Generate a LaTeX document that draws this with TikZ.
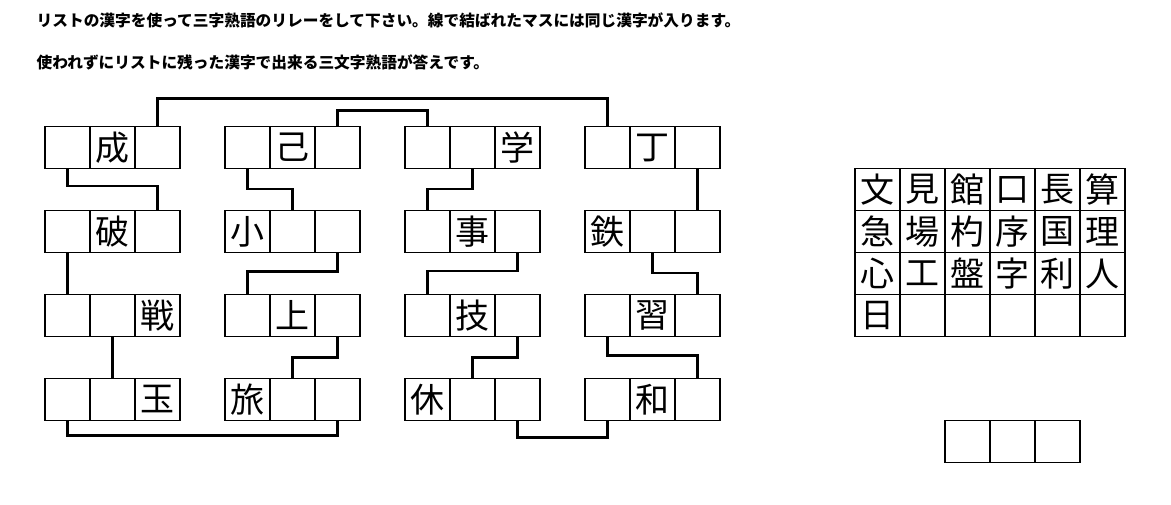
\documentclass[tikz,border=0pt]{standalone}
\usepackage{fontspec}
\setmainfont{Noto Sans CJK JP}
\begin{document}
\begin{tikzpicture}[x=1pt, y=-1pt,
	cell/.style={draw, line width=1.4pt, minimum width=45pt, minimum height=42pt, inner sep=0pt, font=\fontsize{34}{34}\selectfont},
	link/.style={line width=2.6pt, line join=miter},
	lead/.style={anchor=base west, inner sep=0pt, font=\bfseries\fontsize{15.7}{16}\selectfont}]
	\useasboundingbox (0,0) rectangle (1171,505);

	% 1. 問題文
	\node[lead] (t1) at (36.5,27) {リストの漢字を使って三字熟語のリレーをして下さい。線で結ばれたマスには同じ漢字が入ります。};
	\node[lead] (t2) at (36.5,69) {使われずにリストに残った漢字で出来る三文字熟語が答えです。};

	% 2. 熟語のマス (行・列ごとに三つ)
	\foreach \x/\y/\n/\a/\b/\c in {
		45/147.5/g11/{}/成/{}, 225/147.5/g12/{}/己/{}, 405/147.5/g13/{}/{}/学, 585/147.5/g14/{}/丁/{},
		45/231.5/g21/{}/破/{}, 225/231.5/g22/小/{}/{}, 405/231.5/g23/{}/事/{}, 585/231.5/g24/鉄/{}/{},
		45/315.5/g31/{}/{}/戦, 225/315.5/g32/{}/上/{}, 405/315.5/g33/{}/技/{}, 585/315.5/g34/{}/習/{},
		45/399.5/g41/{}/{}/玉, 225/399.5/g42/旅/{}/{}, 405/399.5/g43/休/{}/{}, 585/399.5/g44/{}/和/{}} {
		\node[cell] (\n-l) at (\x+22.5,\y) {\a};
		\node[cell] (\n-m) at (\x+67.5,\y) {\b};
		\node[cell] (\n-r) at (\x+112.5,\y) {\c};
	}

	% 3. 同じ漢字が入るマスを結ぶ線
	\draw[link] (g11-r.north) -- ++(0,-27) -| (g14-l.north);
	\draw[link] (g12-r.north) -- ++(0,-15) -| (g13-l.north);
	\draw[link] (g11-l.south) -- ++(0,17) -| (g21-r.north);
	\draw[link] (g12-l.south) -- ++(0,20) -| (g22-m.north);
	\draw[link] (g13-m.south) -- ++(0,20) -| (g23-l.north);
	\draw[link] (g14-r.south) -- (g24-r.north);
	\draw[link] (g21-l.south) -- (g31-l.north);
	\draw[link] (g22-r.south) -- ++(0,18.5) -| (g32-l.north);
	\draw[link] (g23-r.south) -- ++(0,18) -| (g33-l.north);
	\draw[link] (g24-m.south) -- ++(0,20) -| (g34-r.north);
	\draw[link] (g31-m.south) -- (g41-m.north);
	\draw[link] (g32-r.south) -- ++(0,20.5) -| (g42-m.north);
	\draw[link] (g33-r.south) -- ++(0,20) -| (g43-m.north);
	\draw[link] (g34-l.south) -- ++(0,18.5) -| (g44-r.north);
	\draw[link] (g41-l.south) -- ++(0,14) -| (g42-r.south);
	\draw[link] (g43-r.south) -- ++(0,16) -| (g44-l.south);

	% 4. 漢字のリスト
	\foreach \ch [count=\i from 0] in {文,見,館,口,長,算,急,場,杓,序,国,理,心,工,盤,字,利,人,日,{},{},{},{},{}} {
		\pgfmathtruncatemacro{\col}{mod(\i,6)}
		\pgfmathtruncatemacro{\row}{int(\i/6)}
		\node[cell] (k\i) at (877.5+45*\col,189.5+42*\row) {\ch};
	}

	% 5. 答えのマス
	\node[cell] (a1) at (967.5,441.5) {};
	\node[cell] (a2) at (1012.5,441.5) {};
	\node[cell] (a3) at (1057.5,441.5) {};
\end{tikzpicture}
\end{document}
